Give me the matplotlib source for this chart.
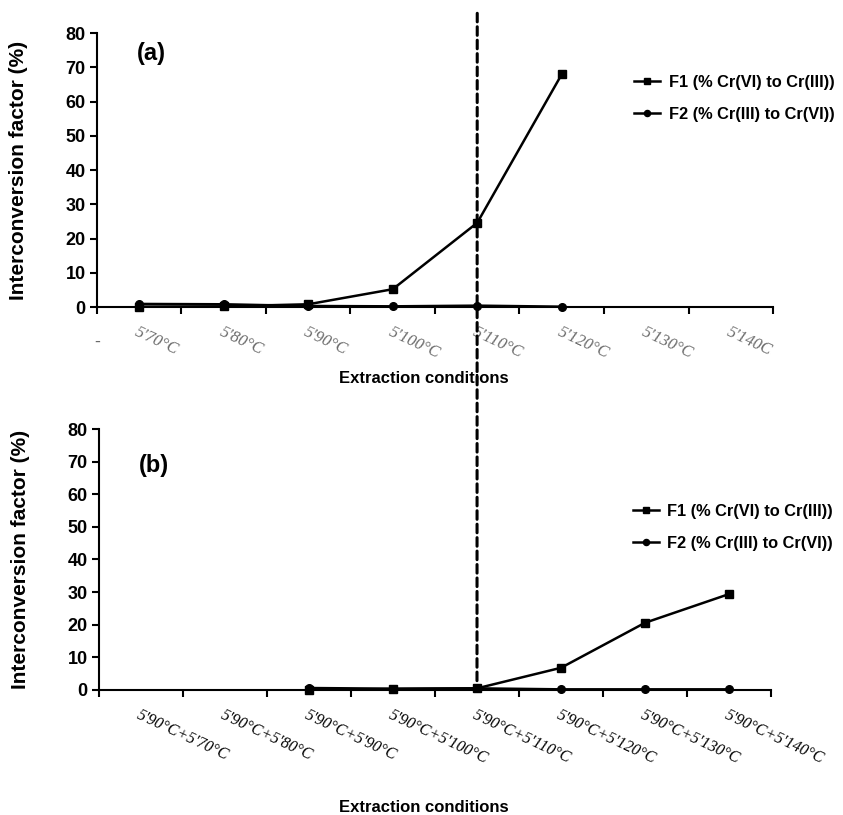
import numpy as np
import matplotlib
matplotlib.use("Agg")
import matplotlib.pyplot as plt
from matplotlib.patches import ConnectionPatch

plt.rcParams['font.family'] = ['Liberation Sans', 'DejaVu Sans']

# single extraction step (a)
labels_a = ["5'70°C", "5'80°C", "5'90°C", "5'100°C", "5'110°C", "5'120°C", "5'130°C", "5'140C"]
f1_a = [0.1, 0.2, 0.8, 5.2, 24.6, 68.0, np.nan, np.nan]
f2_a = [0.9, 0.8, 0.3, 0.2, 0.4, 0.1, np.nan, np.nan]

# two-step extraction (b)
labels_b = ["5'90°C+5'70°C", "5'90°C+5'80°C", "5'90°C+5'90°C", "5'90°C+5'100°C",
            "5'90°C+5'110°C", "5'90°C+5'120°C", "5'90°C+5'130°C", "5'90°C+5'140°C"]
f1_b = [np.nan, np.nan, 0.1, 0.3, 0.5, 6.8, 20.6, 29.4]
f2_b = [np.nan, np.nan, 0.6, 0.4, 0.5, 0.2, 0.2, 0.2]

series_names = ["F1 (% Cr(VI) to Cr(III))", "F2 (% Cr(III) to Cr(VI))"]
yticks = [0, 10, 20, 30, 40, 50, 60, 70, 80]
split_idx = 4  # 5'110°C step

fig = plt.figure(figsize=(8.43, 8.15), dpi=100)
ax_a = fig.add_axes([0.115, 0.6233, 0.802, 0.336])
ax_b = fig.add_axes([0.1174, 0.1534, 0.7972, 0.3202])


def style_panel(ax, labels, f1, f2, tick_color, tick_size, tag, tag_y, leg_y, xlab_y):
    x = np.arange(len(labels))
    ax.plot(x, f1, color='black', lw=1.8, marker='s', ms=6, label=series_names[0], clip_on=False, zorder=4)
    ax.plot(x, f2, color='black', lw=1.8, marker='o', ms=5.5, label=series_names[1], clip_on=False, zorder=4)

    ax.set_xlim(-0.5, len(labels) - 0.5)
    ax.set_ylim(0, 80)
    ax.set_yticks(yticks)
    ax.set_yticklabels([str(v) for v in yticks], fontsize=13, fontweight='bold')

    ax.set_xticks(x)
    ax.set_xticks(np.arange(len(labels) + 1) - 0.5, minor=True)
    ax.set_xticklabels(labels, rotation=-25, ha='left', va='top', rotation_mode='anchor',
                       fontsize=tick_size, fontstyle='italic', family='Liberation Serif', color=tick_color)
    ax.tick_params(axis='x', which='major', length=0, pad=12)
    ax.tick_params(axis='x', which='minor', length=5, width=1.5, direction='out')
    ax.tick_params(axis='y', length=5, width=1.5, direction='out', pad=3)

    for side in ['top', 'right']:
        ax.spines[side].set_visible(False)
    for side in ['left', 'bottom']:
        ax.spines[side].set_linewidth(1.5)

    ax.set_ylabel("Interconversion factor (%)", fontsize=15, fontweight='bold')
    ax.yaxis.set_label_coords(-0.102, 0.5)
    ax.set_xlabel("Extraction conditions", fontsize=12, fontweight='bold')
    ax.xaxis.set_label_coords(0.484, xlab_y)

    ax.text(0.059, tag_y, tag, transform=ax.transAxes, fontsize=17, fontweight='bold',
            ha='left', va='center')

    ax.legend(loc='upper left', bbox_to_anchor=(0.785, leg_y), frameon=False,
              prop={'size': 11.8, 'weight': 'bold'}, handlelength=1.6, handletextpad=0.5,
              labelspacing=1.05, markerscale=0.8, borderaxespad=0)


style_panel(ax_a, labels_a, f1_a, f2_a, '#6a6a6a', 12, '(a)', 0.927, 0.872, -0.234)
style_panel(ax_b, labels_b, f1_b, f2_b, 'black', 11.5, '(b)', 0.862, 0.738, -0.421)

# stray dash under the first category of panel (a)
ax_a.text(-0.5, -0.128, '-', transform=ax_a.get_xaxis_transform(), ha='center', va='center',
          fontsize=13, color='#6a6a6a')

# dashed marker through both panels at the 5'110°C step
con = ConnectionPatch(xyA=(split_idx, 85.8), coordsA=ax_a.transData,
                      xyB=(split_idx, 0), coordsB=ax_b.transData,
                      color='black', lw=2.2, linestyle=(0, (2.8, 1.6)), zorder=5)
fig.add_artist(con)

fig.savefig('out.png', dpi=100, facecolor='white')
